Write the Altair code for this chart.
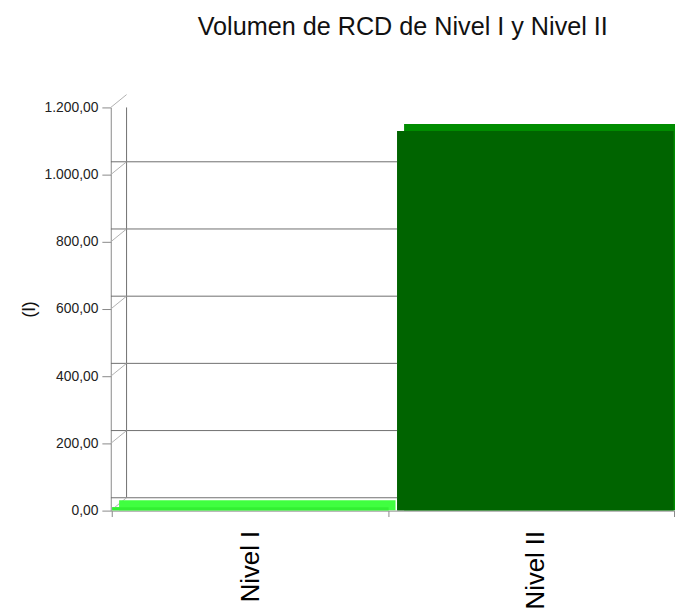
import altair as alt
import pandas as pd

categories = ["Nivel I", "Nivel II"]
values = [10, 1130]
face_colors = ["#33f033", "#006400"]
top_colors = ["#40ff40", "#008c00"]
tick_values = [0, 200, 400, 600, 800, 1000, 1200]

W, H = 571, 408
DX, DY = 16, -13
BX, BY = 7, -7

bars = pd.DataFrame({"cat": categories, "val": values, "face": face_colors, "top": top_colors})
ticks = pd.DataFrame({"v": tick_values})

yscale = alt.Scale(domain=[0, 1200], nice=False)
xscale = alt.Scale(domain=categories, paddingInner=0.03, paddingOuter=0.005)

front = alt.Chart(bars).mark_bar(clip=True).encode(
    x=alt.X(
        "cat:N",
        scale=xscale,
        sort=categories,
        axis=alt.Axis(
            title=None,
            labelAngle=270,
            labelAlign="right",
            labelBaseline="middle",
            labelFontSize=26,
            labelColor="#000000",
            labelFont="Liberation Sans",
            labelPadding=14,
            tickBand="extent",
            tickColor="#888888",
            tickSize=6,
            domainColor="#888888",
        ),
    ),
    y=alt.Y(
        "val:Q",
        scale=yscale,
        axis=alt.Axis(
            values=tick_values,
            format=",.2f",
            title="(l)",
            titleFontSize=19,
            titleFontWeight="normal",
            titleFont="Liberation Sans",
            titleColor="#111111",
            titlePadding=6,
            labelFontSize=14,
            labelFont="Liberation Sans",
            labelColor="#222222",
            labelPadding=4,
            tickColor="#888888",
            tickSize=9,
            domainColor="#888888",
            grid=False,
        ),
    ),
    color=alt.Color("face:N", scale=None),
)

grid = alt.Chart(ticks).mark_rule(color="#6e6e6e", strokeWidth=1, xOffset=DX, yOffset=DY, clip=True).encode(
    y=alt.Y("v:Q", scale=yscale)
)
wall = alt.Chart(ticks).mark_rule(color="#6e6e6e", strokeWidth=1, xOffset=DX, yOffset=DY).encode(
    x=alt.value(0),
    y=alt.Y("min(v):Q", scale=yscale),
    y2=alt.Y2("max(v):Q"),
)
connectors = alt.Chart(ticks).mark_rule(color="#b0b0b0", strokeWidth=1, x2Offset=DX, y2Offset=DY).encode(
    x=alt.value(0),
    x2=alt.value(0),
    y=alt.Y("v:Q", scale=yscale),
    y2=alt.Y2("v:Q"),
)

depth = alt.Chart(bars).mark_bar(xOffset=BX, yOffset=BY, y2Offset=0, clip=True).encode(
    x=alt.X("cat:N", scale=xscale),
    y=alt.Y("val:Q", scale=yscale),
    y2=alt.datum(0),
    color=alt.Color("top:N", scale=None),
)

chart = (
    alt.layer(front, grid, wall, connectors, depth, front)
    .properties(
        width=W,
        height=H,
        autosize=alt.AutoSizeParams(type="none"),
        padding={"left": 104, "top": 97, "right": 0, "bottom": 101},
        title=alt.TitleParams(
            "Volumen de RCD de Nivel I y Nivel II",
            fontSize=25.5,
            font="Liberation Sans",
            fontWeight="normal",
            color="#111111",
            anchor="middle",
            offset=54,
            dx=10,
        ),
        background="white",
    )
    .configure_view(stroke=None)
)

chart.save(
    "out.html",
    embed_options={
        "renderer": "svg",
        "actions": False,
        "formatLocale": {"decimal": ",", "thousands": ".", "grouping": [3], "currency": ["", " €"]},
    },
)
